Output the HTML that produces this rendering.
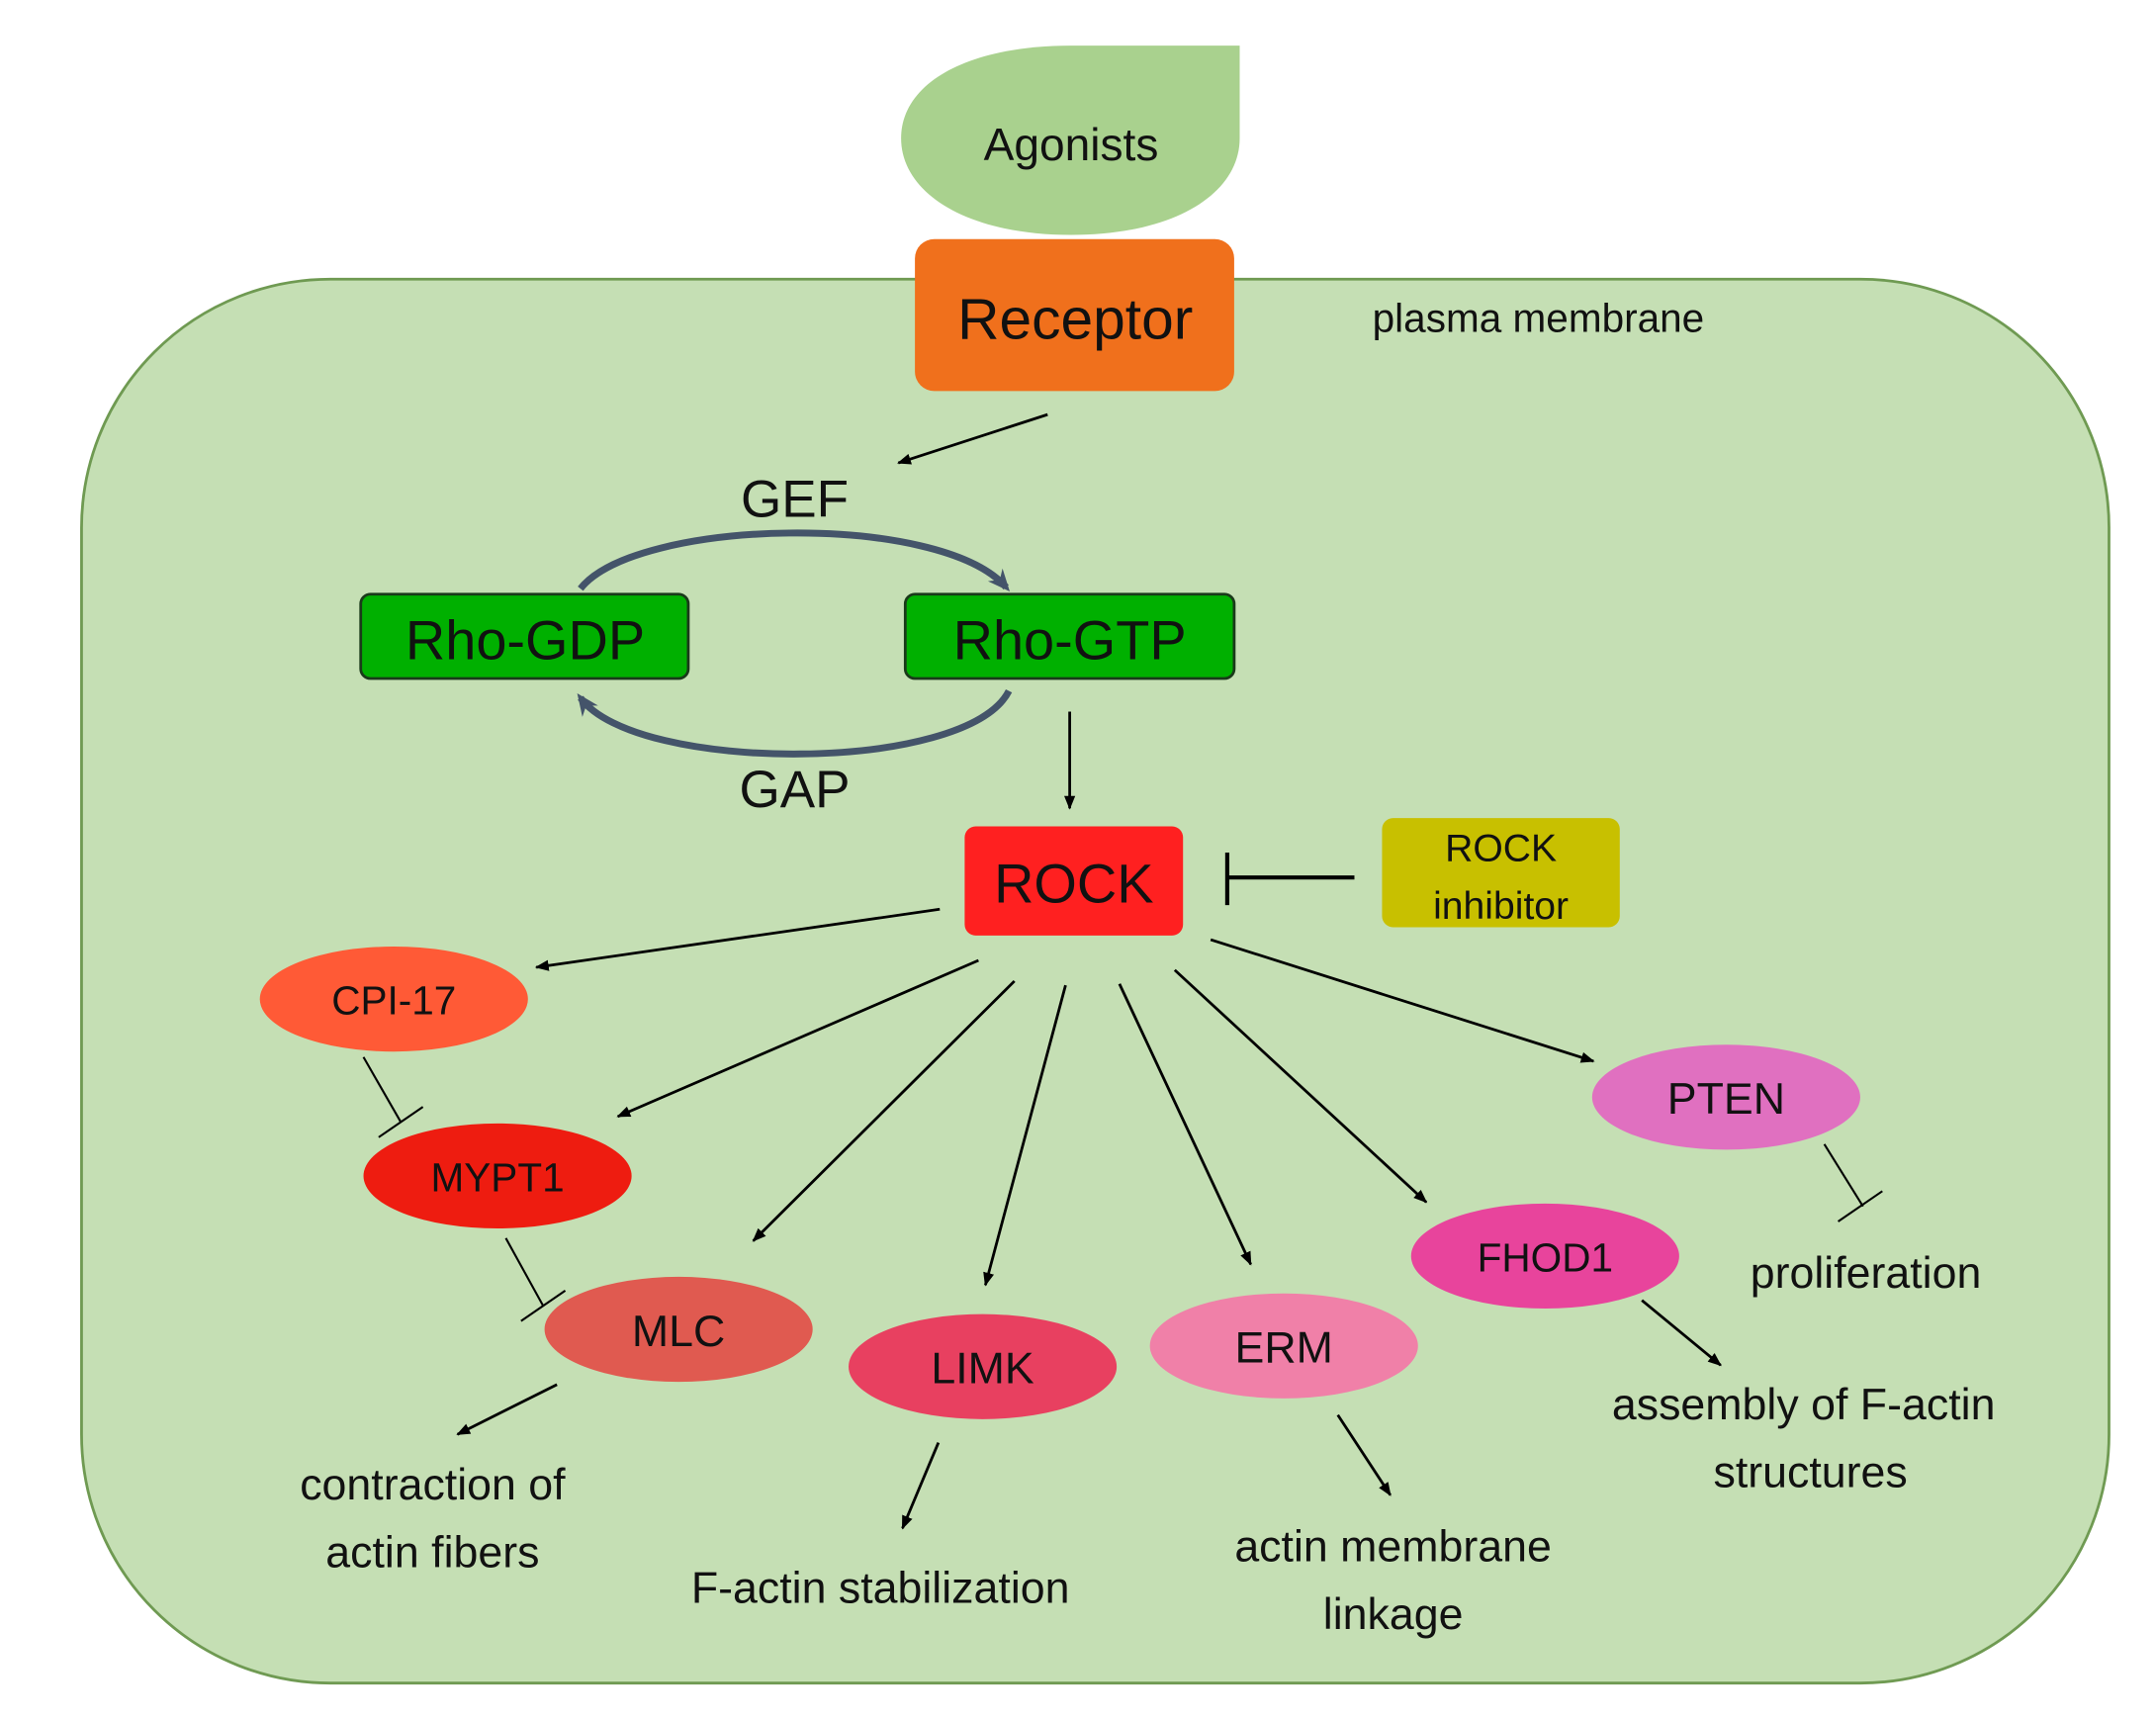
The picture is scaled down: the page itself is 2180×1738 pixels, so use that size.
<!DOCTYPE html>
<html><head><meta charset="utf-8"><style>
html,body{margin:0;padding:0;background:#fff;}
svg{display:block;}
text{font-family:"Liberation Sans",sans-serif;fill:#111;}
</style></head><body>
<svg width="2180" height="1738" viewBox="0 0 1560 1244" preserveAspectRatio="none" xmlns="http://www.w3.org/2000/svg">
<defs>
<marker id="ah" markerWidth="10" markerHeight="10" refX="9" refY="5" orient="auto" markerUnits="userSpaceOnUse"><path d="M0,1 L10,5 L0,9 Z" fill="#000"/></marker>
<marker id="ah2" markerWidth="18" markerHeight="18" refX="12" refY="9" orient="auto" markerUnits="userSpaceOnUse"><path d="M0,2 L16,9 L0,16 L5,9 Z" fill="#44546a"/></marker>
</defs>
<rect x="59" y="202" width="1467" height="1016" rx="180" fill="#c5dfb4" stroke="#6f9a52" stroke-width="2"/>
<path d="M897,33 L897,100 C897,140 850,170 775,170 C700,170 652,140 652,100 C652,60 700,33 775,33 Z" fill="#a9d18e"/>
<text x="775" y="116" font-size="33" text-anchor="middle">Agonists</text>
<rect x="662" y="173" width="231" height="110" rx="14" fill="#f0701c"/>
<text x="778" y="245" font-size="42" text-anchor="middle">Receptor</text>
<text x="993" y="240" font-size="29">plasma membrane</text>
<line x1="758" y1="300" x2="650" y2="335" stroke="#000" stroke-width="2" marker-end="url(#ah)"/>
<text x="575" y="374" font-size="38" text-anchor="middle">GEF</text>
<text x="575" y="584" font-size="38" text-anchor="middle">GAP</text>
<path d="M420,426 C460,375 680,370 728,425" fill="none" stroke="#44546a" stroke-width="5" marker-end="url(#ah2)"/>
<path d="M730,500 C700,560 460,560 420,505" fill="none" stroke="#44546a" stroke-width="5" marker-end="url(#ah2)"/>
<rect x="261" y="430" width="237" height="61" rx="7" fill="#00b000" stroke="#1a3a1a" stroke-width="2"/>
<text x="380" y="477" font-size="40" text-anchor="middle">Rho-GDP</text>
<rect x="655" y="430" width="238" height="61" rx="7" fill="#00b000" stroke="#1a3a1a" stroke-width="2"/>
<text x="774" y="477" font-size="40" text-anchor="middle">Rho-GTP</text>
<line x1="774" y1="515" x2="774" y2="585" stroke="#000" stroke-width="2" marker-end="url(#ah)"/>
<rect x="698" y="598" width="158" height="79" rx="8" fill="#ff2020"/>
<text x="777" y="653" font-size="40" text-anchor="middle">ROCK</text>
<rect x="1000" y="592" width="172" height="79" rx="8" fill="#c8c000"/>
<text x="1086" y="623" font-size="28" text-anchor="middle">ROCK</text>
<text x="1086" y="665" font-size="28" text-anchor="middle">inhibitor</text>
<line x1="980" y1="635" x2="888" y2="635" stroke="#000" stroke-width="3"/>
<line x1="888" y1="617" x2="888" y2="655" stroke="#000" stroke-width="3"/>
<g stroke="#000" stroke-width="2" marker-end="url(#ah)">
<line x1="680" y1="658" x2="388" y2="700"/>
<line x1="708" y1="695" x2="447" y2="808"/>
<line x1="734" y1="710" x2="545" y2="898"/>
<line x1="771" y1="713" x2="713" y2="930"/>
<line x1="810" y1="712" x2="905" y2="915"/>
<line x1="850" y1="702" x2="1032" y2="870"/>
<line x1="876" y1="680" x2="1153" y2="768"/>
<line x1="403" y1="1002" x2="331" y2="1038"/>
<line x1="679" y1="1044" x2="653" y2="1106"/>
<line x1="968" y1="1024" x2="1006" y2="1082"/>
<line x1="1188" y1="941" x2="1245" y2="988"/>
</g>
<g stroke="#000" stroke-width="1.5">
<line x1="263" y1="765" x2="290" y2="812"/><line x1="274" y1="823" x2="306" y2="801"/>
<line x1="366" y1="896" x2="393" y2="945"/><line x1="377" y1="956" x2="409" y2="934"/>
<line x1="1320" y1="828" x2="1348" y2="873"/><line x1="1330" y1="884" x2="1362" y2="862"/>
</g>
<ellipse cx="285" cy="723" rx="97" ry="38" fill="#ff5a36"/>
<text x="285" y="734" font-size="29" text-anchor="middle">CPI-17</text>
<ellipse cx="360" cy="851" rx="97" ry="38" fill="#ee1c10"/>
<text x="360" y="862" font-size="29" text-anchor="middle">MYPT1</text>
<ellipse cx="491" cy="962" rx="97" ry="38" fill="#e05a50"/>
<text x="491" y="974" font-size="32" text-anchor="middle">MLC</text>
<ellipse cx="711" cy="989" rx="97" ry="38" fill="#e84060"/>
<text x="711" y="1001" font-size="32" text-anchor="middle">LIMK</text>
<ellipse cx="929" cy="974" rx="97" ry="38" fill="#f080a8"/>
<text x="929" y="986" font-size="32" text-anchor="middle">ERM</text>
<ellipse cx="1118" cy="909" rx="97" ry="38" fill="#e8449c"/>
<text x="1118" y="920" font-size="29" text-anchor="middle">FHOD1</text>
<ellipse cx="1249" cy="794" rx="97" ry="38" fill="#e070c0"/>
<text x="1249" y="806" font-size="32" text-anchor="middle">PTEN</text>
<g font-size="32" text-anchor="middle">
<text x="313" y="1085">contraction of</text>
<text x="313" y="1134">actin fibers</text>
<text x="637" y="1160">F-actin stabilization</text>
<text x="1008" y="1130">actin membrane</text>
<text x="1008" y="1179">linkage</text>
<text x="1305" y="1027">assembly of F-actin</text>
<text x="1310" y="1076">structures</text>
<text x="1350" y="932">proliferation</text>
</g>
</svg>
</body></html>
